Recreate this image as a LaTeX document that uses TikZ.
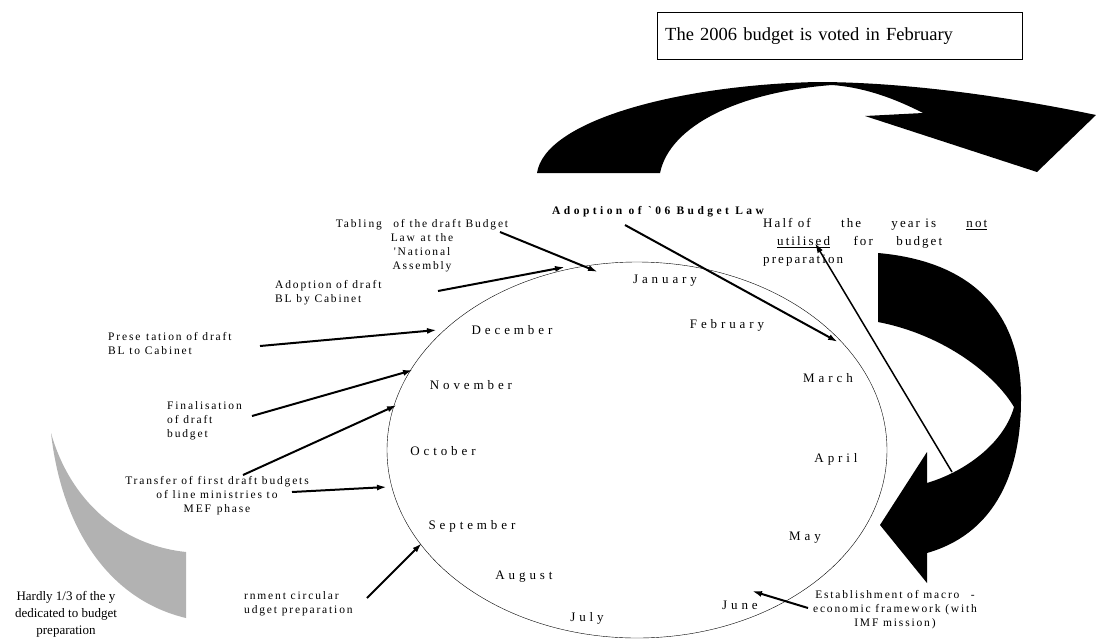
\documentclass[tikz,border=0pt]{standalone}
\usepackage{fontspec}
\setmainfont{Liberation Serif}
\newfontfamily\monthfont[LetterSpace=30]{Liberation Serif}
\newfontfamily\notefont[LetterSpace=16]{Liberation Serif}
\newfontfamily\lawfont[LetterSpace=30]{Liberation Serif}
\usetikzlibrary{arrows.meta}

\tikzset{
  month/.style={font=\monthfont\fontsize{13}{15}\selectfont, inner sep=0pt},
  note/.style={font=\notefont\fontsize{11.5}{14}\selectfont, inner sep=0pt, align=left},
  pointer/.style={-{Latex[length=10pt,width=6pt]}, line width=2pt},
}

\begin{document}
\begin{tikzpicture}[x=1pt, y=-1pt]
    \useasboundingbox (0,0) rectangle (1096,638);

    % the year
    \draw[thin] (637,450) ellipse [x radius=250pt, y radius=188pt];

    \node[month] (jan) at (665,281) {January};
    \node[month] (feb) at (727,325) {February};
    \node[month] (mar) at (828,378) {March};
    \node[month] (apr) at (836,459) {April};
    \node[month] (may) at (805,538) {May};
    \node[month] (jun) at (740,605) {June};
    \node[month] (jul) at (587,618) {July};
    \node[month] (aug) at (524,577) {August};
    \node[month] (sep) at (472,526) {September};
    \node[month] (oct) at (443,451) {October};
    \node[month] (nov) at (471,385) {November};
    \node[month] (dec) at (512,330) {December};

    \node[draw, thin, anchor=north west, minimum width=365pt, minimum height=47pt,
          inner xsep=8pt, text width=349pt, font=\fontsize{18.5}{21}\selectfont]
          (voted) at (657,12) {The 2006 budget is voted in February};

    % big curved arrows
    \fill[black] (537,173) .. controls (545,120) and (680,85) .. (817,82)
        .. controls (900,82) and (1000,95) .. (1096,115)
        -- (1037,172) -- (865,116) -- (923,113)
        .. controls (890,96) and (860,87) .. (832,85)
        .. controls (740,92) and (670,125) .. (660,173) -- cycle;
    \fill[black] (878,253) .. controls (980,262) and (1022,320) .. (1021,400)
        .. controls (1021,480) and (990,535) .. (927,553)
        -- (927,583) -- (880,525) -- (927,452) -- (927,483)
        .. controls (970,470) and (1005,440) .. (1014,407)
        .. controls (995,375) and (945,335) .. (878,322) -- cycle;

    % labels
    \node[note, align=center, anchor=north] (tabling) at (422,219)
        {Tabling\quad of the draft Budget\\Law\enspace at the\\'National\\Assembly};
    \node[note, anchor=north west] (cabinet) at (275,280) {Adoption of draft\\BL by Cabinet};
    \node[note, anchor=north west] (present) at (108,332) {Prese\enspace tation of draft\\BL to Cabinet};
    \node[note, anchor=north west] (final) at (167,401) {Finalisation\\of draft\\budget};
    \node[note, align=center, anchor=north] (transfer) at (217,476)
        {Transfer of first draft budgets\\of line ministries to\\MEF\enspace phase};
    \node[note, anchor=north west] (circular) at (244,591) {rnment circular\\udget preparation};
    \node[note, anchor=west, font=\lawfont\fontsize{11.5}{13}\selectfont\bfseries]
        (law) at (552,212) {Adoption of `06 Budget Law};
    \node[note, anchor=north west, font=\notefont\fontsize{13}{18}\selectfont] (half) at (763,218)
        {\makebox[224pt][s]{Half of\hfill the\hfill year is\hfill \underline{not}}\\
         \hspace*{14pt}\makebox[165pt][s]{\underline{utilised}\hfill for\hfill budget}\\preparation};
    \node[note, align=center, anchor=north] (macro) at (895,590)
        {Establishment of macro\quad -\\economic framework (with\\IMF mission)};
    \node[align=center, anchor=north, inner sep=0pt, font=\fontsize{13}{17}\selectfont]
        (third) at (66,591) {Hardly 1/3 of the y\\dedicated to budget\\preparation};

    \fill[gray!60] (51,433) .. controls (70,500) and (120,545) .. (186,552)
        -- (186,618) .. controls (110,600) and (62,530) .. (51,433) -- cycle;

    % pointers
    \coordinate (tabling-from) at (500,232);   \coordinate (tabling-to) at (598,272);
    \coordinate (cabinet-from) at (438,291);   \coordinate (cabinet-to) at (565,267);
    \coordinate (present-from) at (260,346);   \coordinate (present-to) at (437,330);
    \coordinate (final-from) at (252,416);     \coordinate (final-to) at (413,370);
    \coordinate (transfer-from) at (243,475);  \coordinate (transfer-to) at (397,405);
    \coordinate (phase-from) at (292,492);     \coordinate (phase-to) at (387,487);
    \coordinate (circular-from) at (367,598);  \coordinate (circular-to) at (422,543);
    \coordinate (law-from) at (625,225);       \coordinate (law-to) at (838,342);
    \coordinate (half-from) at (952,472);      \coordinate (half-to) at (815,243);
    \coordinate (macro-from) at (808,608);     \coordinate (macro-to) at (752,591);

    \draw[pointer] (tabling-from) -- (tabling-to);
    \draw[pointer] (cabinet-from) -- (cabinet-to);
    \draw[pointer] (present-from) -- (present-to);
    \draw[pointer] (final-from) -- (final-to);
    \draw[pointer] (transfer-from) -- (transfer-to);
    \draw[pointer] (phase-from) -- (phase-to);
    \draw[pointer] (circular-from) -- (circular-to);
    \draw[pointer] (law-from) -- (law-to);
    \draw[pointer, line width=1.5pt] (half-from) -- (half-to);
    \draw[pointer] (macro-from) -- (macro-to);
\end{tikzpicture}
\end{document}
